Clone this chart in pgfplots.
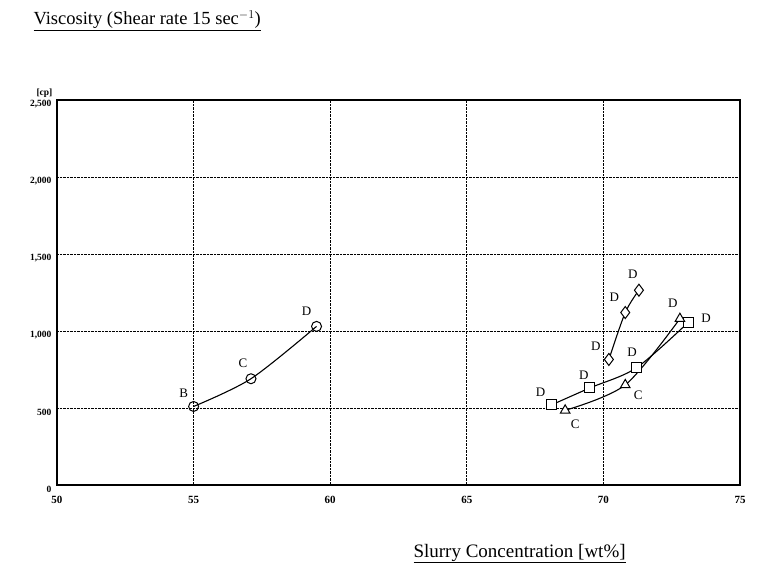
\documentclass[border=0pt]{standalone}
\usepackage{pgfplots}
\pgfplotsset{compat=1.18}
\usepackage{fontspec}
\setmainfont{Liberation Serif}
\begin{document}
\begin{tikzpicture}
\path[use as bounding box] (0pt,0pt) rectangle (762pt,571pt);
\begin{axis}[at={(57pt,86pt)}, anchor=south west, scale only axis,
  width=683pt, height=385pt,
  xmin=50, xmax=75, ymin=0, ymax=2500,
  xtick={50,55,60,65,70,75}, ytick={0,500,1000,1500,2000,2500},
  grid=major, major grid style={black, densely dotted, line width=0.7pt},
  axis line style={black, line width=1.1pt},
  tick style={draw=none},
  /pgf/number format/assume math mode=true,
  /pgf/number format/1000 sep={,},
  yticklabel style={font=\fontsize{9.5}{10}\selectfont\bfseries, yshift=-4pt, xshift=-2pt},
  xticklabel style={font=\fontsize{11}{12}\selectfont\bfseries, yshift=-8pt},
  clip=false]
\draw[black, line width=2pt] (rel axis cs:1,0) -- (rel axis cs:1,1);
% left series
\addplot[black, line width=1.1pt, smooth, mark=o, mark size=5pt, mark options={fill=white, solid, line width=1pt}]
  coordinates {(55,510) (57.1,690) (59.5,1030)};
% diamonds
\addplot[black, line width=1.1pt, smooth, mark=diamond*, mark size=6pt, mark options={fill=white, solid, line width=1pt}]
  coordinates {(70.2,815) (70.8,1120) (71.3,1265)};
% squares
\addplot[black, line width=1.1pt, smooth, mark=square*, mark size=5pt, mark options={fill=white, solid, line width=1pt}]
  coordinates {(68.1,520) (69.5,630) (71.2,760) (73.1,1055)};
% triangles
\addplot[black, line width=1.1pt, smooth, mark=triangle*, mark size=5.5pt, mark options={fill=white, solid, line width=1pt}]
  coordinates {(68.6,485) (70.8,650) (72.8,1080)};
\tikzset{lab/.style={font=\fontsize{13}{14}\selectfont}}
\node[lab, xshift=-10pt, yshift=13pt] at (axis cs:55,510) {B};
\node[lab, xshift=-8pt, yshift=15pt] at (axis cs:57.1,690) {C};
\node[lab, xshift=-10pt, yshift=15pt] at (axis cs:59.5,1030) {D};
\node[lab, xshift=-13pt, yshift=13pt] at (axis cs:70.2,815) {D};
\node[lab, xshift=-11pt, yshift=15pt] at (axis cs:70.8,1120) {D};
\node[lab, xshift=-6pt, yshift=16pt] at (axis cs:71.3,1265) {D};
\node[lab, xshift=-11pt, yshift=13pt] at (axis cs:68.1,520) {D};
\node[lab, xshift=-6pt, yshift=13pt] at (axis cs:69.5,630) {D};
\node[lab, xshift=-4pt, yshift=16pt] at (axis cs:71.2,760) {D};
\node[lab, xshift=18pt, yshift=4pt] at (axis cs:73.1,1055) {D};
\node[lab, xshift=10pt, yshift=-14pt] at (axis cs:68.6,485) {C};
\node[lab, xshift=13pt, yshift=-10pt] at (axis cs:70.8,650) {C};
\node[lab, xshift=-7pt, yshift=15pt] at (axis cs:72.8,1080) {D};
\end{axis}
\node[anchor=base west, font=\fontsize{9.5}{10}\selectfont\bfseries] at (33pt,475pt) {[cp]};
\node[anchor=base west, font=\fontsize{18.5}{22}\selectfont] at (30pt,546pt) {\underline{Viscosity (Shear rate 15 sec$^{-1}$)}};
\node[anchor=base west, font=\fontsize{19}{22}\selectfont] at (410pt,14pt) {\underline{Slurry Concentration [wt\%]}};
\end{tikzpicture}
\end{document}
